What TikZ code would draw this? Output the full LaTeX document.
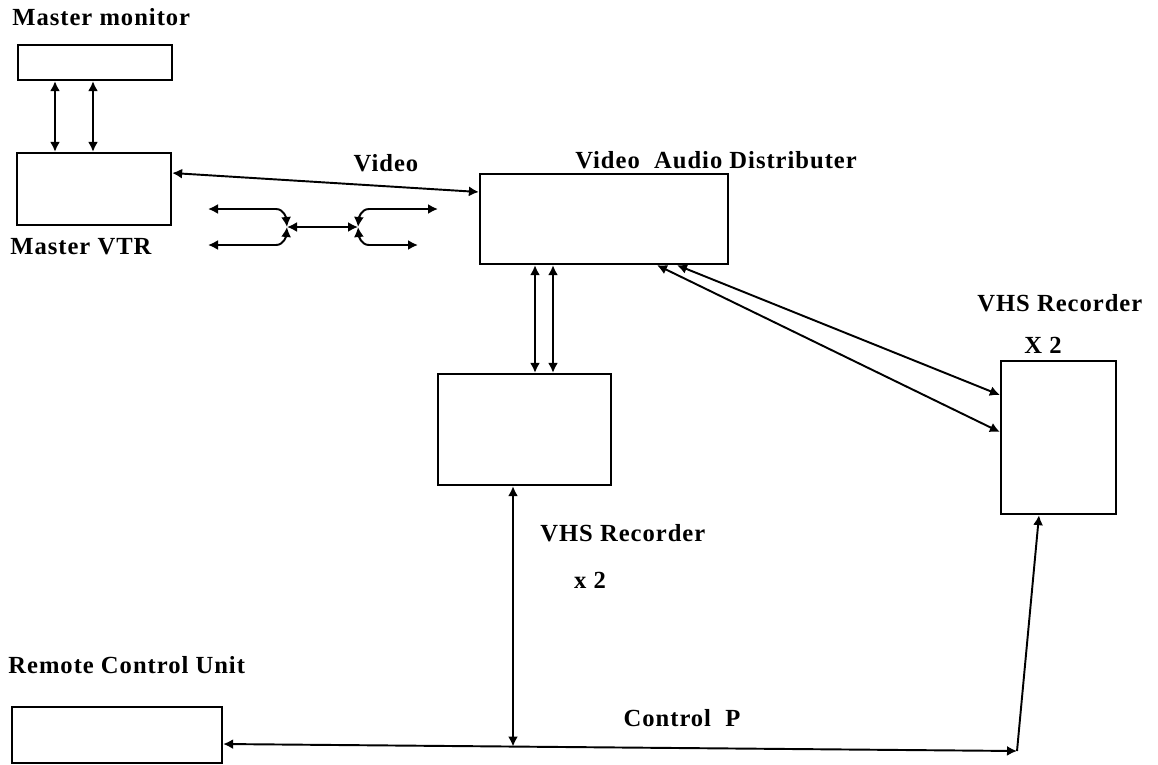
\documentclass[tikz,border=0pt]{standalone}
\usepackage{fontspec}
\setmainfont{Liberation Serif}[LetterSpace=4]
\usetikzlibrary{arrows.meta}

\tikzset{
  box/.style={draw,line width=1.3pt,inner sep=0pt},
  lbl/.style={font=\bfseries\fontsize{14}{16}\selectfont,inner sep=0pt},
  dbl/.style={line width=1.1pt,{Latex[length=2mm,width=2mm]}-{Latex[length=2mm,width=2mm]}},
  sgl/.style={line width=1.1pt,-{Latex[length=2mm,width=2mm]}}
}

\begin{document}
\begin{tikzpicture}[x=0.02cm,y=-0.02cm]
  \useasboundingbox (0,0) rectangle (1158,764);

  % units
  \node[box,minimum width=3.08cm,minimum height=0.70cm] (mon) at (95,62.5) {};
  \node[box,minimum width=3.08cm,minimum height=1.44cm] (vtr) at (94,189) {};
  \node[box,minimum width=4.96cm,minimum height=1.80cm] (dist) at (604,219) {};
  \node[box,minimum width=3.46cm,minimum height=2.22cm] (vhsa) at (524.5,429.5) {};
  \node[box,minimum width=2.30cm,minimum height=3.06cm] (vhsb) at (1058.5,437.5) {};
  \node[box,minimum width=4.20cm,minimum height=1.12cm] (rcu) at (117,735) {};

  % labels
  \node[lbl,anchor=west] (lmon) at (12,17) {Master monitor};
  \node[lbl,anchor=west] (lvtr) at (10,247) {Master VTR};
  \node[lbl] (lvid) at (386,163) {Video};
  \node[lbl,anchor=west] (ldist) at (575,160) {Video~ Audio Distributer};
  \node[lbl,anchor=west] (lvhsb) at (977,303) {VHS Recorder};
  \node[lbl] (lxb) at (1043,345) {X 2};
  \node[lbl,anchor=west] (lvhsa) at (540,533) {VHS Recorder};
  \node[lbl] (lxa) at (590,580) {x 2};
  \node[lbl,anchor=west] (lrcu) at (8,665) {Remote Control Unit};
  \node[lbl] (lctl) at (682,718) {Control~ P};

  % monitor <-> VTR
  \draw[dbl] (mon.south -| 55,0) -- (vtr.north -| 55,0);
  \draw[dbl] (mon.south -| 93,0) -- (vtr.north -| 93,0);

  % video line
  \draw[dbl] (vtr.east |- 0,173) -- (dist.west |- 0,192);

  % splitter
  \coordinate (jl) at (287,227);
  \coordinate (jr) at (358,227);
  \draw[dbl] (208,209) -- (276,209) to[out=0,in=95] (jl);
  \draw[dbl] (208,245) -- (276,245) to[out=0,in=-95] (jl);
  \draw[dbl] (jl) -- (jr);
  \draw[dbl] (jr) to[out=85,in=180] (369,209) -- (438,209);
  \draw[dbl] (jr) to[out=-85,in=180] (369,245) -- (418,245);

  % distributer -> recorders
  \draw[dbl] (dist.south -| 535,0) -- (vhsa.north -| 535,0);
  \draw[dbl] (dist.south -| 553,0) -- (vhsa.north -| 553,0);
  \draw[dbl] (dist.south -| 677,0) -- (vhsb.west |- 0,395);
  \draw[dbl] (dist.south -| 657,0) -- (vhsb.west |- 0,432);

  % control line
  \coordinate (tap) at (513,746.5);
  \coordinate (corner) at (1017,751);
  \draw[dbl] (rcu.east |- 0,744) -- (corner);
  \draw[dbl] (vhsa.south -| 513,0) -- (tap);
  \draw[sgl] (corner) -- (vhsb.south -| 1039,0);
\end{tikzpicture}
\end{document}
